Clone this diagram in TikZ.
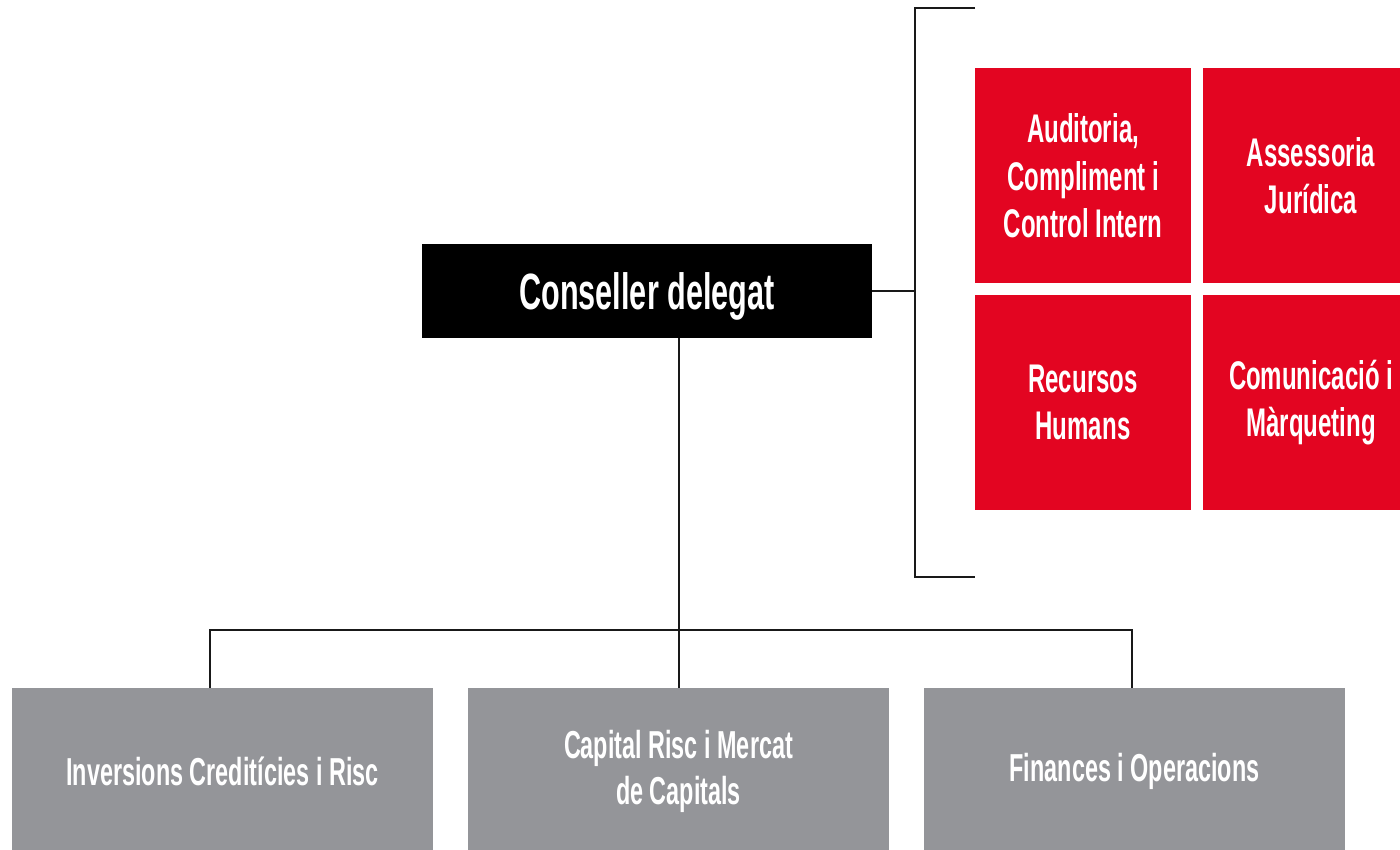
\documentclass[tikz,border=0pt]{standalone}
\usepackage{fontspec}
\setmainfont{Liberation Sans}[FakeStretch=0.6]
\definecolor{orgred}{HTML}{E30521}
\definecolor{orggray}{HTML}{949599}

\begin{document}
\begin{tikzpicture}[x=1pt, y=-1pt,
  box/.style = {rectangle, inner sep=0pt, text=white, align=center, font=\bfseries\fontsize{39}{46}\selectfont},
  boss/.style = {box, fill=black, minimum width=450pt, minimum height=93.5pt, text depth=0pt, font=\bfseries\fontsize{51}{60}\selectfont},
  unit/.style = {box, fill=orgred, minimum width=216pt, minimum height=215.5pt, font=\bfseries\fontsize{40}{47.5}\selectfont},
  area/.style = {box, fill=orggray, minimum width=421pt, minimum height=166pt},
  conn/.style = {line width=2pt, draw=black!90}]
\useasboundingbox (0,0) rectangle (1400,850);
% top
\path (647,290.75) node[boss] (ceo) {Conseller delegat};
% staff units
\path (1083,175.75) node[unit] (aud) {Auditoria,\\Compliment i\\Control Intern};
\path (1311,175.75) node[unit] (jur) {Assessoria\\Jurídica};
\path (1083,402.5) node[unit] (rh) {Recursos\\Humans};
\path (1311,402.5) node[unit] (com) {Comunicació i\\Màrqueting};
% areas
\path (222.5,771) node[area] (inv) {Inversions Creditícies i Risc};
\path (678.5,771) node[area] (cap) {Capital Risc i Mercat\\de Capitals};
\path (1134.5,771) node[area] (fin) {Finances i Operacions};
% bracket
\coordinate (brT) at (975,8);
\coordinate (brB) at (975,577);
\coordinate (brM) at (915,290.75);
\draw[conn] (brT) -- (915,8) -- (915,577) -- (brB);
\draw[conn] (ceo.east) -- (brM);
% bus
\coordinate (busL) at (210,630);
\coordinate (busR) at (1132,630);
\draw[conn] (ceo.south -| cap.north) -- (cap.north);
\draw[conn] (busL |- inv.north) -- (busL) -- (busR) -- (busR |- fin.north);
\end{tikzpicture}
\end{document}
